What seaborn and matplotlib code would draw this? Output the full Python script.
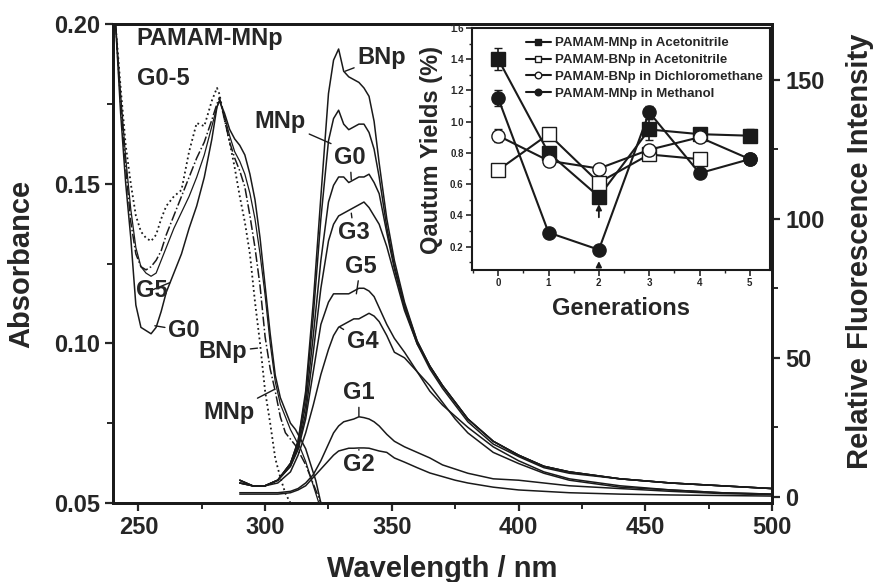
import numpy as np
import pandas as pd
import seaborn as sns
import matplotlib.pyplot as plt
from matplotlib.ticker import MultipleLocator

# --- absorbance spectra (left axis) ---
abs_wl = [241, 243, 245, 247, 249, 251, 253, 255, 257, 259, 261, 264, 267, 270, 273, 276,
          279, 281, 282, 284, 286, 288, 290, 292, 294, 296, 298, 300, 302, 304, 306, 308,
          310, 312, 314, 316, 318, 320, 322, 324]
abs_g0 = [0.200, 0.172, 0.150, 0.133, 0.112, 0.105, 0.104, 0.103, 0.105, 0.110, 0.116, 0.122,
          0.128, 0.136, 0.143, 0.152, 0.164, 0.174, 0.176, 0.172, 0.167, 0.164, 0.162, 0.159,
          0.153, 0.145, 0.133, 0.118, 0.103, 0.090, 0.083, 0.079, 0.075, 0.073, 0.070, 0.067,
          0.062, 0.057, 0.050, 0.045]
abs_g5 = [0.200, 0.178, 0.158, 0.142, 0.130, 0.124, 0.122, 0.121, 0.122, 0.126, 0.130, 0.136,
          0.141, 0.146, 0.152, 0.159, 0.168, 0.174, 0.176, 0.171, 0.165, 0.160, 0.157, 0.153,
          0.147, 0.139, 0.128, 0.115, 0.100, 0.088, 0.081, 0.077, 0.073, 0.070, 0.067, 0.063,
          0.058, 0.053, 0.048, 0.044]
abs_mnp = [0.200, 0.175, 0.155, 0.138, 0.128, 0.124, 0.123, 0.124, 0.126, 0.129, 0.134, 0.140,
           0.146, 0.152, 0.158, 0.163, 0.170, 0.175, 0.177, 0.170, 0.163, 0.158, 0.154, 0.149,
           0.140, 0.130, 0.118, 0.102, 0.092, 0.085, 0.077, 0.072, 0.070, 0.068, 0.065, 0.062,
           0.058, 0.054, 0.050, 0.046]
abs_bnp = [0.200, 0.180, 0.162, 0.150, 0.140, 0.135, 0.133, 0.132, 0.134, 0.139, 0.143, 0.146,
           0.148, 0.160, 0.169, 0.168, 0.176, 0.180, 0.178, 0.170, 0.163, 0.155, 0.146, 0.138,
           0.128, 0.113, 0.100, 0.085, 0.075, 0.064, 0.058, 0.053, 0.050, 0.046, 0.044, 0.042,
           0.040, 0.038, 0.036, 0.034]

# --- fluorescence spectra (right axis) ---
fl_wl = [290, 295, 300, 305, 310, 313, 316, 319, 322, 325, 327, 329, 331, 333, 335, 337, 339,
         341, 343, 345, 348, 351, 355, 360, 365, 370, 375, 380, 390, 400, 410, 420, 440, 460,
         480, 500]
fl_bnp = [5, 4, 4, 6, 12, 20, 38, 70, 108, 145, 157, 161, 153, 151, 150, 149, 147, 144, 135,
          120, 100, 85, 70, 56, 47, 40, 34, 28, 20, 15, 11, 9, 6.5, 5, 4, 3]
fl_mnp = [5, 4, 4, 6, 12, 20, 36, 65, 100, 128, 136, 139, 134, 132, 133, 134, 134, 131, 125,
          115, 97, 83, 69, 56, 47, 40, 34, 28, 20, 15, 11, 9, 6.5, 5, 4, 3]
fl_g0 = [6, 4, 4, 6, 12, 19, 33, 58, 85, 106, 112, 115, 115, 113, 114, 115, 115, 116, 113,
         109, 95, 82, 68, 55, 47, 40, 34, 28, 20, 15, 11, 9, 6.5, 5, 4, 3]
fl_g3 = [6, 4, 4, 6, 11, 18, 30, 52, 75, 92, 98, 101, 102, 103, 104, 105, 106, 104, 101, 98,
         90, 80, 67, 55, 46, 39, 33, 27, 19, 14.5, 10.5, 8.5, 6.5, 5, 4, 3]
fl_g5 = [6, 4, 4, 6, 11, 17, 28, 45, 62, 70, 73, 73, 73, 73, 74, 75, 75, 74, 72, 68, 62, 57,
         52, 45, 38, 33, 29, 25, 18, 13, 9, 6.5, 4, 2.5, 1.5, 1]
fl_g4 = [5, 4, 4, 5, 9, 15, 23, 33, 44, 53, 58, 61, 62, 63, 64, 64, 65, 66, 65, 63, 58, 52,
         50, 45, 40, 34, 28, 23, 16, 12, 8.5, 6, 3.5, 2.5, 1.5, 1]
fl_g1 = [1.5, 1.5, 1.5, 1.5, 2, 3, 5, 8, 13, 19, 23, 25.5, 27, 27.5, 28, 28.8, 28.5, 28, 27,
         25.5, 22.5, 20, 18, 16, 14, 11.5, 10, 8.5, 6.5, 6, 5, 4, 3, 2, 1.2, 0.8]
fl_g2 = [1, 1, 1, 1, 1.5, 2.5, 4, 7, 10, 13, 15, 16.5, 17, 17.5, 17.5, 17.6, 17.6, 17.5, 17,
         16.5, 16, 14, 12.5, 10.5, 8.6, 7.3, 6, 5, 3.5, 2.5, 2, 1.5, 1, 0.7, 0.5, 0.3]

# --- inset: quantum yields vs generation ---
generations = [0, 1, 2, 3, 4, 5]
qy_mnp_acn = [1.40, 0.80, 0.52, 0.95, 0.92, 0.91]
qy_mnp_acn_err = [0.07, 0.03, 0.03, 0.07, 0.03, 0.04]
qy_bnp_acn = [0.69, 0.92, 0.61, 0.79, 0.76]
qy_bnp_acn_err = [0.02, 0.04, 0.03, 0.03, 0.02]
qy_bnp_dcm = [0.91, 0.75, 0.70, 0.82, 0.90, 0.76]
qy_bnp_dcm_err = [0.04, 0.02, 0.02, 0.03, 0.03, 0.02]
qy_mnp_meoh = [1.15, 0.29, 0.18, 1.06, 0.67, 0.76]
qy_mnp_meoh_err = [0.05, 0.02, 0.02, 0.04, 0.02, 0.02]

sns.set_theme(style="ticks")
plt.rcParams['font.family'] = ['Liberation Sans', 'DejaVu Sans']
plt.rcParams['font.weight'] = 'bold'

fig = plt.figure(figsize=(8.79, 5.82), dpi=100)
ax = fig.add_axes([0.1286, 0.1357, 0.7497, 0.8231])
ax2 = ax.twinx()

lw = 1.1
sns.lineplot(x=abs_wl, y=abs_g0, ax=ax, color='k', lw=lw)
sns.lineplot(x=abs_wl, y=abs_g5, ax=ax, color='k', lw=0.9)
sns.lineplot(x=abs_wl, y=abs_mnp, ax=ax, color='k', lw=lw, linestyle='-.')
sns.lineplot(x=abs_wl, y=abs_bnp, ax=ax, color='k', lw=1.3, linestyle=':')

for vals in [fl_bnp, fl_mnp, fl_g0, fl_g3, fl_g5, fl_g4, fl_g1, fl_g2]:
    sns.lineplot(x=fl_wl, y=vals, ax=ax2, color='k', lw=lw)

ax.set_xlim(240, 500)
ax.set_ylim(0.05, 0.20)
ax2.set_ylim(-2.2, 170)

ax.xaxis.set_major_locator(MultipleLocator(50))
ax.xaxis.set_minor_locator(MultipleLocator(25))
ax.yaxis.set_major_locator(MultipleLocator(0.05))
ax.yaxis.set_minor_locator(MultipleLocator(0.025))
ax.yaxis.set_major_formatter(plt.FormatStrFormatter('%.2f'))
ax2.yaxis.set_major_locator(MultipleLocator(50))
ax2.yaxis.set_minor_locator(MultipleLocator(25))

for a in (ax, ax2):
    a.tick_params(which='major', direction='out', length=6, width=1.6, labelsize=17)
    a.tick_params(which='minor', direction='out', length=4, width=1.4)
    for s in a.spines.values():
        s.set_linewidth(2)
        s.set_color('k')
    for lbl in a.get_xticklabels() + a.get_yticklabels():
        lbl.set_fontweight('bold')

ax.set_xlabel('Wavelength / nm', fontsize=21, fontweight='bold')
ax.set_ylabel('Absorbance', fontsize=21, fontweight='bold')
ax2.set_ylabel('Relative Fluorescence Intensity', fontsize=21, fontweight='bold')
ax.xaxis.set_label_coords(0.5, -0.108)
ax.yaxis.set_label_coords(-0.118, 0.5)
ax2.yaxis.set_label_coords(1.112, 0.525)

# text labels
txt = dict(fontsize=17, fontweight='bold', ha='center', va='center')
leader = dict(arrowstyle='-', color='k', lw=1.0, shrinkA=0, shrinkB=0)
ax.text(249.4, 0.1956, 'PAMAM-MNp', fontsize=17, fontweight='bold', va='center')
ax.text(249.4, 0.183, 'G0-5', fontsize=17, fontweight='bold', va='center')
ax.annotate('G5', xy=(262.4, 0.119), xytext=(255.4, 0.1167), arrowprops=leader, **txt)
ax.annotate('G0', xy=(256.5, 0.1055), xytext=(268, 0.104), arrowprops=leader, **txt)
ax.annotate('BNp', xy=(297, 0.0985), xytext=(283.3, 0.0973), arrowprops=leader, **txt)
ax.annotate('MNp', xy=(303.5, 0.0855), xytext=(285.7, 0.0782), arrowprops=leader, **txt)

ax2.annotate('BNp', xy=(331.5, 153), xytext=(346, 158), arrowprops=leader, **txt)
ax2.annotate('MNp', xy=(326, 127), xytext=(306, 135), arrowprops=leader, **txt)
ax2.annotate('G0', xy=(334, 114), xytext=(333.5, 122), arrowprops=leader, **txt)
ax2.annotate('G3', xy=(334, 102), xytext=(335, 95), arrowprops=leader, **txt)
ax2.annotate('G5', xy=(336, 73), xytext=(337.6, 83), arrowprops=leader, **txt)
ax2.annotate('G4', xy=(329.5, 61), xytext=(338.5, 56), arrowprops=leader, **txt)
ax2.annotate('G1', xy=(337, 29), xytext=(337, 37.5), arrowprops=leader, **txt)
ax2.annotate('G2', xy=(337, 17), xytext=(337, 11.5), arrowprops=leader, **txt)

# --- inset ---
axi = fig.add_axes([0.537, 0.536, 0.339, 0.416])
axi.set_facecolor('white')
series = [
    ('PAMAM-MNp in Acetonitrile', generations, qy_mnp_acn, qy_mnp_acn_err, 's', 'k'),
    ('PAMAM-BNp in Acetonitrile', generations[:5], qy_bnp_acn, qy_bnp_acn_err, 's', 'white'),
    ('PAMAM-BNp in Dichloromethane', generations, qy_bnp_dcm, qy_bnp_dcm_err, 'o', 'white'),
    ('PAMAM-MNp in Methanol', generations, qy_mnp_meoh, qy_mnp_meoh_err, 'o', 'k'),
]
for name, g, v, e, m, fc in series:
    axi.errorbar(g, v, yerr=e, fmt='none', ecolor='k', elinewidth=1.2, capsize=3, zorder=1)
    sns.lineplot(x=g, y=v, ax=axi, color='k', lw=1.5, marker=m, markersize=9.5,
                 markerfacecolor=fc, markeredgecolor='k', markeredgewidth=1.0, label=name)

axi.annotate('', xy=(2, 0.49), xytext=(2, 0.37),
             arrowprops=dict(arrowstyle='-|>', color='k', lw=1.3, mutation_scale=8))
axi.annotate('', xy=(2, 0.125), xytext=(2, 0.05),
             arrowprops=dict(arrowstyle='-|>', color='k', lw=1.3, mutation_scale=8))

axi.set_xlim(-0.52, 5.4)
axi.set_ylim(0.05, 1.6)
axi.xaxis.set_major_locator(MultipleLocator(1))
axi.xaxis.set_minor_locator(MultipleLocator(0.5))
axi.yaxis.set_major_locator(MultipleLocator(0.2))
axi.yaxis.set_minor_locator(MultipleLocator(0.1))
axi.yaxis.set_major_formatter(plt.FormatStrFormatter('%.1f'))
axi.tick_params(which='major', direction='out', length=4, width=1.2, labelsize=7, pad=2)
axi.tick_params(which='minor', direction='out', length=2.5, width=1.0)
for s in axi.spines.values():
    s.set_linewidth(1.5)
    s.set_color('k')
for lbl in axi.get_xticklabels() + axi.get_yticklabels():
    lbl.set_fontweight('bold')
axi.set_xlabel('Generations', fontsize=17, fontweight='bold')
axi.set_ylabel('Qautum Yields (%)', fontsize=17, fontweight='bold')
axi.xaxis.set_label_coords(0.5, -0.112)
axi.yaxis.set_label_coords(-0.097, 0.496)

leg = axi.legend(loc='upper left', bbox_to_anchor=(0.15, 1.0), frameon=False,
                 prop={'size': 9.5, 'weight': 'bold'}, handlelength=1.9, handletextpad=0.3,
                 labelspacing=0.35, borderpad=0.2, markerscale=0.5)

fig.savefig('out.png', dpi=100)
